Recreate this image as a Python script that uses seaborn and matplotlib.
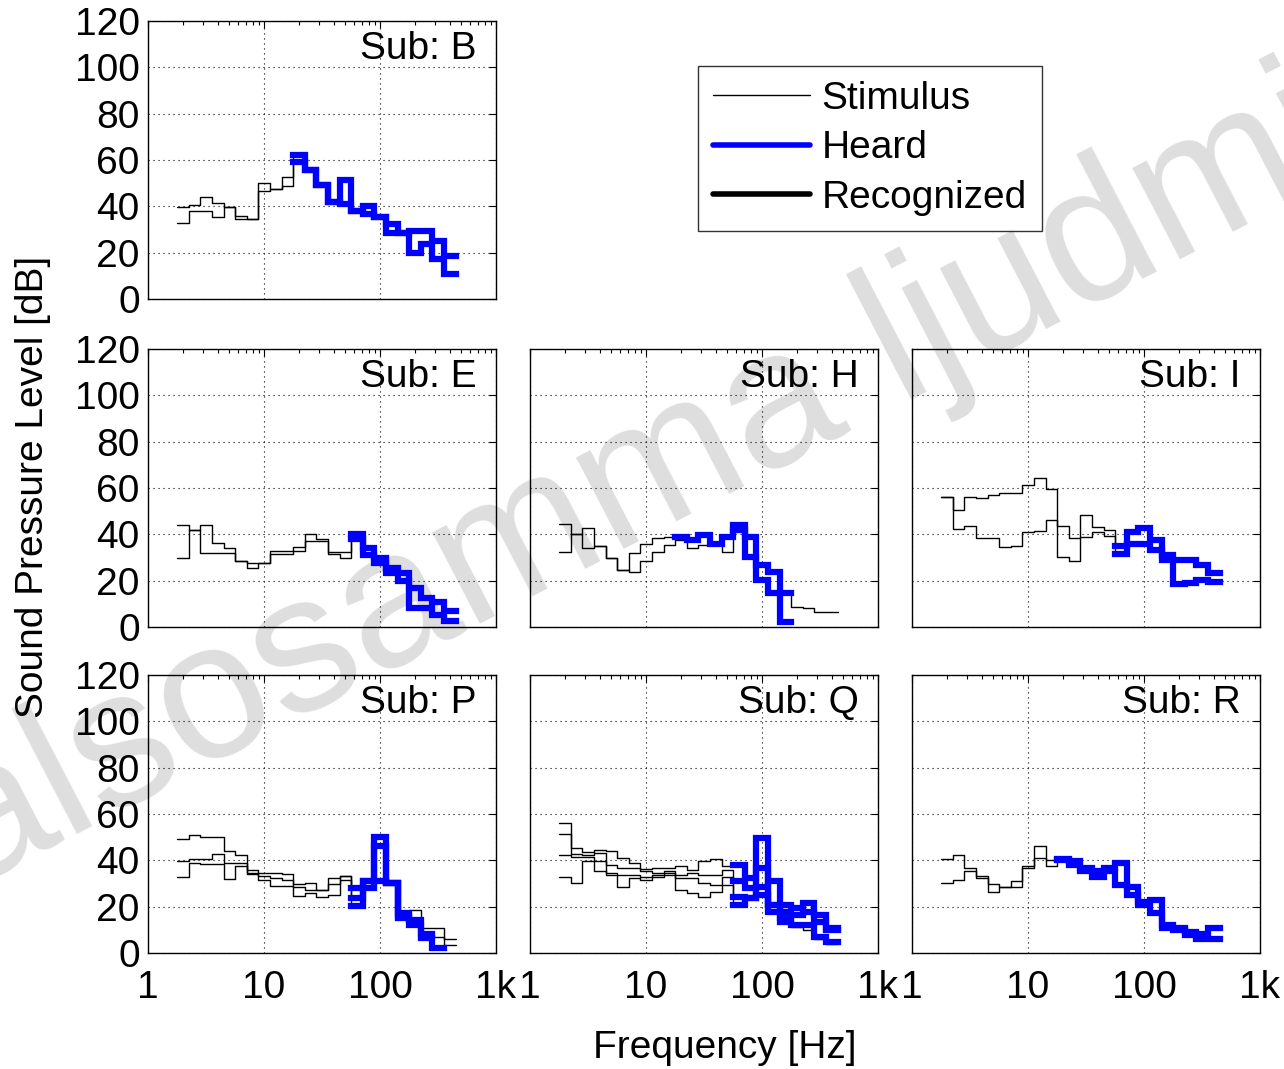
import numpy as np
import pandas as pd
import matplotlib
matplotlib.use("Agg")
import matplotlib.pyplot as plt
from matplotlib.lines import Line2D
from matplotlib.ticker import LogLocator, NullFormatter, FixedLocator, FixedFormatter
import seaborn as sns

# ---------------- data ----------------
bands = [2, 2.5, 3.15, 4, 5, 6.3, 8, 10, 12.5, 16, 20, 25, 31.5, 40, 50, 63, 80,
         100, 125, 160, 200, 250, 315, 400]          # 1/3-octave centres [Hz]

x_ticks = [1, 10, 100, 1000]
x_tick_labels = ["1", "10", "100", "1k"]
y_ticks = [0, 20, 40, 60, 80, 100, 120]

# levels per band [dB]; heard = (first band, last band) drawn as heard
B_1 = [39.6, 40.6, 44.2, 41.3, 39.6, 35.9, 34.5, 50.0, 47.5, 52.6, 62.0, 55.8, 49.0, 41.7, 51.2, 38.1, 40.3, 35.2, 32.3, 28.7, 29.4, 29.4, 25.0, 18.6]
B_2 = [32.8, 38.1, 38.1, 35.2, 39.6, 34.5, 34.5, 46.8, 47.5, 48.6, 59.1, 55.8, 49.0, 41.7, 41.0, 38.1, 36.7, 35.2, 28.7, 28.7, 20.0, 23.6, 17.1, 10.6]
B_heard = [(10, 23), (10, 23)]

E_1 = [44.0, 41.7, 44.0, 36.4, 34.0, 28.4, 27.7, 27.7, 33.0, 33.0, 34.5, 40.0, 37.8, 32.5, 32.5, 40.0, 34.0, 30.0, 25.5, 23.4, 17.0, 12.5, 11.0, 7.0]
E_2 = [29.6, 41.7, 32.0, 32.0, 32.0, 28.4, 25.5, 27.7, 31.3, 31.3, 33.0, 37.0, 37.0, 31.3, 29.9, 37.8, 31.0, 27.7, 23.4, 20.0, 8.0, 8.0, 5.0, 2.5]
E_heard = [(15, 23), (15, 23)]

H_1 = [44.5, 40.0, 42.6, 35.1, 29.6, 24.6, 31.8, 35.8, 38.6, 39.0, 39.0, 37.5, 39.7, 35.7, 39.0, 44.0, 39.0, 26.8, 23.9, 14.5, 8.8, 8.0, 6.3, 6.3]
H_2 = [32.5, 40.0, 34.2, 35.1, 29.6, 24.6, 23.9, 28.5, 32.2, 35.4, 37.5, 34.0, 35.4, 35.4, 32.5, 41.9, 30.4, 20.3, 14.5, 2.3]
H_heard = [(10, 19), (15, 19)]

I_1 = [56.3, 50.5, 56.3, 55.5, 57.0, 57.7, 58.0, 61.3, 64.2, 59.4, 30.4, 28.6, 48.3, 43.3, 41.9, 35.0, 41.2, 42.6, 37.6, 31.0, 28.9, 28.9, 26.8, 23.5]
I_2 = [56.3, 42.2, 43.6, 38.3, 38.3, 34.7, 35.0, 41.2, 41.6, 46.2, 43.6, 38.3, 39.0, 41.2, 39.3, 31.5, 36.0, 36.0, 33.2, 28.9, 18.6, 18.8, 20.3, 19.6]
I_heard = [(15, 23), (15, 23)]

P_1 = [49.4, 51.0, 49.9, 49.9, 44.0, 42.2, 36.0, 34.6, 34.6, 34.0, 29.9, 30.3, 27.1, 32.5, 33.2, 28.1, 31.0, 50.0, 30.3, 17.2, 18.7, 10.7, 11.0, 6.0]
P_2 = [39.7, 40.4, 40.7, 42.9, 39.0, 39.0, 34.6, 33.2, 32.5, 31.7, 28.4, 27.4, 27.1, 29.6, 33.2, 23.8, 31.0, 46.0, 30.3, 16.0, 12.0, 8.0, 6.8, 3.5]
P_3 = [32.8, 39.0, 38.3, 38.3, 32.0, 37.5, 33.9, 31.7, 28.8, 28.8, 24.8, 25.7, 24.2, 25.2, 31.7, 20.4, 28.0, 31.0, 30.3, 15.0, 14.3, 6.4, 2.0]
P_heard = [(15, 19), (15, 21), (15, 22)]

Q_1 = [56.2, 45.4, 43.6, 44.6, 43.9, 41.0, 38.8, 36.4, 36.7, 36.7, 37.4, 35.9, 39.6, 40.7, 37.4, 38.1, 32.3, 49.7, 30.9, 20.7, 19.3, 21.4, 16.4, 10.6]
Q_2 = [51.2, 42.8, 42.5, 43.2, 38.1, 36.7, 36.7, 35.2, 34.5, 35.2, 33.8, 34.5, 33.8, 33.8, 35.9, 30.9, 28.0, 36.7, 20.7, 17.8, 16.4, 17.8, 13.5, 9.9]
Q_3 = [42.5, 41.3, 41.3, 39.6, 34.5, 33.8, 33.8, 33.0, 33.8, 34.5, 32.3, 32.3, 30.1, 29.4, 33.0, 24.3, 23.6, 28.7, 20.7, 14.9, 12.0, 12.0, 7.0, 4.8]
Q_4 = [32.8, 30.1, 39.9, 35.2, 33.8, 28.7, 32.3, 31.6, 33.0, 33.8, 27.2, 25.8, 24.3, 26.5, 29.4, 20.7, 23.6, 25.0, 17.8, 13.5, 11.3, 10.0, 6.2, 4.0]
Q_heard = [(15, 23), (15, 23), (15, 23), (15, 19)]

R_1 = [40.6, 42.2, 36.7, 33.3, 29.7, 28.7, 30.9, 36.7, 46.1, 40.3, 40.6, 39.6, 36.7, 35.2, 36.7, 38.8, 28.7, 22.2, 22.9, 12.0, 10.6, 9.1, 8.4, 11.0]
R_2 = [30.1, 31.6, 35.2, 32.3, 26.5, 28.7, 28.7, 37.7, 41.0, 37.4, 40.0, 38.1, 35.2, 33.0, 35.2, 29.4, 25.0, 20.7, 17.1, 10.6, 9.9, 7.7, 6.2, 5.9]
R_heard = [(10, 23), (10, 23)]

subjects = {
    "B": ([B_1, B_2], B_heard),
    "E": ([E_1, E_2], E_heard),
    "H": ([H_1, H_2], H_heard),
    "I": ([I_1, I_2], I_heard),
    "P": ([P_1, P_2, P_3], P_heard),
    "Q": ([Q_1, Q_2, Q_3, Q_4], Q_heard),
    "R": ([R_1, R_2], R_heard),
}

# ---------------- style ----------------
sns.set_style("white")
plt.rcParams["font.family"] = ["Liberation Sans", "DejaVu Sans"]
plt.rcParams["text.color"] = "black"
plt.rcParams["xtick.color"] = "black"
plt.rcParams["ytick.color"] = "black"
plt.rcParams["xtick.labelcolor"] = "black"
plt.rcParams["ytick.labelcolor"] = "black"
FS = 28

W, H = 1284, 1069
fig = plt.figure(figsize=(W / 100, H / 100), dpi=100)
fig.patch.set_facecolor("white")

# watermark
fig.text(-30 / W, 1 - 890 / H, "alsosamma ljudmi", rotation=27.5, rotation_mode="anchor",
         ha="left", va="baseline", fontsize=140, color="#dedede", zorder=-10)

col_left = [148, 530, 912]
row_top = [21, 349, 675]
AW, AH = 348, 278

layout = {"B": (0, 0), "E": (0, 1), "H": (1, 1), "I": (2, 1),
          "P": (0, 2), "Q": (1, 2), "R": (2, 2)}

log_c0 = np.log10(bands[0])


def edges_for(n):
    return 10 ** (log_c0 - 0.05 + 0.1 * np.arange(n + 1))


def step_df(vals, i0, i1):
    e = edges_for(len(vals))
    x = list(e[i0:i1 + 2])
    y = list(vals[i0:i1 + 1]) + [vals[i1]]
    return pd.DataFrame({"f": x, "L": y})


for name, (col, row) in layout.items():
    ax = fig.add_axes([col_left[col] / W, 1 - (row_top[row] + AH) / H, AW / W, AH / H])
    ax.set_facecolor("none")
    ax.set_xscale("log")
    curves, heard = subjects[name]
    for vals in curves:
        df = step_df(vals, 0, len(vals) - 1)
        sns.lineplot(data=df, x="f", y="L", ax=ax, color="black", lw=1.0,
                     drawstyle="steps-post", estimator=None, sort=False,
                     legend=False, zorder=3)
    for vals, (h0, h1) in zip(curves, heard):
        df = step_df(vals, h0, h1)
        sns.lineplot(data=df, x="f", y="L", ax=ax, color="#0000ff", lw=4.5,
                     drawstyle="steps-post", estimator=None, sort=False,
                     legend=False, zorder=4, solid_joinstyle="miter",
                     solid_capstyle="projecting")
    ax.set_xlim(1, 1000)
    ax.set_ylim(0, 120)
    ax.set_xlabel("")
    ax.set_ylabel("")
    ax.xaxis.set_major_locator(FixedLocator(x_ticks))
    ax.xaxis.set_minor_locator(LogLocator(base=10, subs=np.arange(2, 10), numticks=30))
    ax.xaxis.set_minor_formatter(NullFormatter())
    ax.yaxis.set_major_locator(FixedLocator(y_ticks))
    if row == 2:
        ax.xaxis.set_major_formatter(FixedFormatter(x_tick_labels))
    else:
        ax.set_xticklabels([])
    if col == 0:
        ax.set_yticklabels([str(v) for v in y_ticks])
    else:
        ax.set_yticklabels([])
    ax.tick_params(which="both", direction="in", top=True, right=True,
                   colors="black", labelcolor="black", labelsize=FS, width=0.8)
    ax.tick_params(which="major", length=5)
    ax.tick_params(which="minor", length=3)
    ax.tick_params(axis="y", pad=6)
    ax.tick_params(axis="x", pad=12)
    ax.grid(True, which="major", color="black", linestyle=(0, (1, 3.5)), lw=0.8)
    for s in ax.spines.values():
        s.set_color("black")
        s.set_linewidth(1.0)
        s.set_visible(True)
    ax.text(0.945, 0.965, f"Sub: {name}", transform=ax.transAxes, ha="right",
            va="top", fontsize=FS, color="black", zorder=6)

fig.text(33 / W, 1 - 487 / H, "Sound Pressure Level [dB]", rotation=90,
         ha="center", va="center", fontsize=FS, color="black")
fig.text(725 / W, 1 - 1048 / H, "Frequency [Hz]", ha="center", va="center",
         fontsize=FS, color="black")

handles = [Line2D([], [], color="black", lw=1.0),
           Line2D([], [], color="#0000ff", lw=4.0),
           Line2D([], [], color="black", lw=4.0)]
leg = fig.legend(handles, ["Stimulus", "Heard", "Recognized"], loc="upper left",
                 bbox_to_anchor=(698 / W, 1 - 66 / H), fontsize=FS, frameon=True,
                 fancybox=False, edgecolor="black", handlelength=2.5,
                 handletextpad=0.3, labelspacing=0.35, borderpad=0.38,
                 borderaxespad=0)
leg.get_frame().set_linewidth(1.0)
for t in leg.get_texts():
    t.set_color("black")

fig.savefig("out.png", dpi=100)
